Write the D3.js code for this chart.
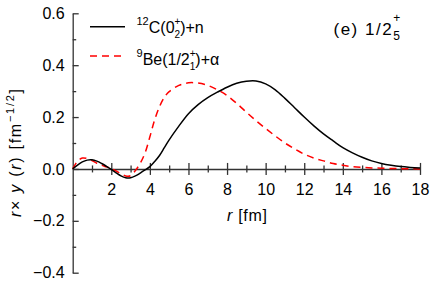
<!DOCTYPE html>
<html><head><meta charset="utf-8">
<script src="https://cdn.jsdelivr.net/npm/d3@7"></script>
<style>
html,body{margin:0;padding:0;background:#fff;}
text{font-family:"Liberation Sans",Arial,sans-serif;fill:#000;}
</style></head>
<body><svg id="c" width="442" height="283"></svg>
<script>
const rValues = [0,0.25,0.5,0.75,1,1.25,1.5,1.75,2,2.25,2.5,2.75,3,3.25,3.5,3.75,4,4.25,4.5,4.75,5,5.5,6,6.5,7,7.5,8,8.5,9,9.5,10,10.5,11,11.5,12,12.5,13,13.5,14,14.5,15,15.5,16,16.5,17,17.5,18];
const c12n = [0,0.015,0.027,0.034,0.035,0.030,0.021,0.010,-0.002,-0.015,-0.027,-0.034,-0.034,-0.027,-0.016,-0.004,0.009,0.029,0.052,0.082,0.112,0.165,0.213,0.248,0.275,0.296,0.315,0.330,0.338,0.339,0.328,0.305,0.272,0.236,0.200,0.166,0.135,0.108,0.082,0.062,0.045,0.031,0.021,0.014,0.009,0.006,0.004];
const be9a = [0,0.030,0.042,0.040,0.032,0.022,0.014,0.008,0.001,-0.008,-0.018,-0.027,-0.026,-0.006,0.022,0.062,0.124,0.190,0.240,0.276,0.298,0.322,0.332,0.331,0.322,0.305,0.283,0.253,0.219,0.186,0.156,0.127,0.100,0.077,0.057,0.042,0.031,0.021,0.014,0.009,0.006,0.004,0.003,0.002,0.001,0.0005,0];
const xMajor = [2,4,6,8,10,12,14,16,18];
const xMinor = [1,3,5,7,9,11,13,15,17];
const yMajor = [-0.4,-0.2,0.0,0.2,0.4,0.6];
const yMinor = [-0.3,-0.1,0.1,0.3,0.5];

const svg = d3.select("#c");
const x = d3.scaleLinear().domain([0,18]).range([72.7,420]);
const y = d3.scaleLinear().domain([-0.4,0.6]).range([272.7,13.3]);
const axisColor = "#333";
const fs = 16;

// y axis
const gy = svg.append("g").attr("transform",`translate(${x(0)},0)`);
gy.call(d3.axisLeft(y).tickValues(yMajor).tickSizeInner(-6).tickSizeOuter(0).tickPadding(8).tickFormat(d3.format(".1f")));
gy.select(".domain").attr("stroke",axisColor).attr("stroke-width",1.3);
gy.selectAll(".tick line").attr("stroke",axisColor).attr("stroke-width",1.3);
gy.selectAll(".tick text").attr("font-size",fs).attr("font-family",null).text(d=>d<0?"\u2212"+Math.abs(d).toFixed(1):d.toFixed(1));
const gy2 = svg.append("g").attr("transform",`translate(${x(0)},0)`);
gy2.call(d3.axisLeft(y).tickValues(yMinor).tickSizeInner(-3.5).tickSizeOuter(0).tickFormat(""));
gy2.select(".domain").remove();
gy2.selectAll(".tick line").attr("stroke",axisColor).attr("stroke-width",1.3);

// x axis at y=0
const gx = svg.append("g").attr("transform",`translate(0,${y(0)})`);
gx.call(d3.axisBottom(x).tickValues(xMajor).tickSizeInner(6).tickSizeOuter(0).tickPadding(9));
gx.select(".domain").attr("stroke",axisColor).attr("stroke-width",1.5);
gx.selectAll(".tick line").attr("stroke",axisColor).attr("stroke-width",1.3).attr("y1",-6);
gx.selectAll(".tick text").attr("font-size",fs).attr("font-family",null);
const gx2 = svg.append("g").attr("transform",`translate(0,${y(0)})`);
gx2.call(d3.axisBottom(x).tickValues(xMinor).tickSizeInner(3.5).tickSizeOuter(0).tickFormat(""));
gx2.select(".domain").remove();
gx2.selectAll(".tick line").attr("stroke",axisColor).attr("stroke-width",1.3).attr("y1",-3.5);

// curves
const line = d3.line().x(d=>x(d[0])).y(d=>y(d[1])).curve(d3.curveCatmullRom.alpha(0.5));
svg.append("path").datum(rValues.map((r,i)=>[r,be9a[i]]))
  .attr("d",line).attr("fill","none").attr("stroke","#ff0000").attr("stroke-width",1.5).attr("stroke-dasharray","7,5");
svg.append("path").datum(rValues.map((r,i)=>[r,c12n[i]]))
  .attr("d",line).attr("fill","none").attr("stroke","#000").attr("stroke-width",1.5);

// x label
const xl = svg.append("text").attr("x",227).attr("y",221).attr("font-size",fs).attr("textLength",40).attr("lengthAdjust","spacing");
xl.append("tspan").attr("font-style","italic").text("r");
xl.append("tspan").text(" [fm]");

// y label
const yl = svg.append("text").attr("transform","translate(21,153) rotate(-90)").attr("text-anchor","middle").attr("font-size",fs)
  .attr("textLength",128).attr("lengthAdjust","spacing");
yl.append("tspan").attr("font-style","italic").text("r");
yl.append("tspan").text("\u00d7 ");
yl.append("tspan").attr("font-style","italic").text("y");
yl.append("tspan").text(" (");
yl.append("tspan").attr("font-style","italic").text("r");
yl.append("tspan").text(") [fm");
yl.append("tspan").attr("font-size",11).attr("dy",-7).text("\u22121/2");
yl.append("tspan").attr("dy",7).text("]");

// legend
svg.append("line").attr("x1",90).attr("x2",125).attr("y1",26.7).attr("y2",26.7).attr("stroke","#000").attr("stroke-width",1.5);
svg.append("line").attr("x1",90).attr("x2",125).attr("y1",56).attr("y2",56).attr("stroke","#ff0000").attr("stroke-width",1.5).attr("stroke-dasharray","7,5");

const l1 = svg.append("text").attr("x",136.5).attr("y",33.3).attr("font-size",fs);
l1.append("tspan").attr("font-size",11).attr("dy",-8).text("12");
l1.append("tspan").attr("dy",8).text("C(0");
l1.append("tspan").attr("font-size",10).attr("dy",-8).text("+");
l1.append("tspan").attr("font-size",10).attr("dx",-5.8).attr("dy",13).text("2");
l1.append("tspan").attr("dy",-5).text(")+n");

const l2 = svg.append("text").attr("x",136.5).attr("y",65).attr("font-size",fs);
l2.append("tspan").attr("font-size",11).attr("dy",-8).text("9");
l2.append("tspan").attr("dy",8).text("Be(1/2");
l2.append("tspan").attr("font-size",10).attr("dy",-8).text("+");
l2.append("tspan").attr("font-size",10).attr("dx",-5.8).attr("dy",13).text("1");
l2.append("tspan").attr("dy",-5).text(")+\u03b1");

const t = svg.append("text").attr("x",333.5).attr("y",35).attr("font-size",17);
t.append("tspan").attr("letter-spacing",1.5).text("(e) 1/2");
t.append("tspan").attr("font-size",12).attr("dy",-13).text("+");
t.append("tspan").attr("font-size",12).attr("dx",-7).attr("dy",18).text("5");
</script></body></html>
